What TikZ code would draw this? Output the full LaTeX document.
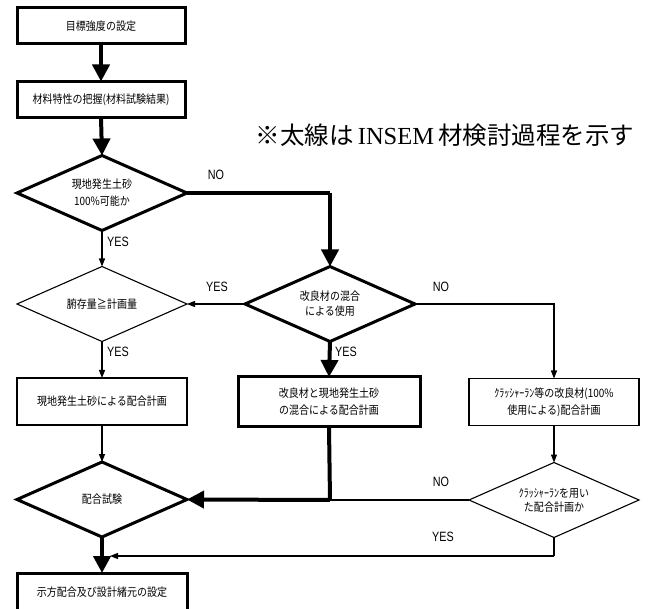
\documentclass[tikz,border=0pt]{standalone}
\usepackage{fontspec}
\setmainfont{Liberation Sans}
\newfontfamily\cjk[FakeStretch=0.87]{Noto Sans CJK JP}
\newfontfamily\notecjk{Noto Sans CJK JP}
\newfontfamily\noteserif{Liberation Serif}
\newfontfamily\labfont[FakeStretch=0.8]{Liberation Sans}
\usetikzlibrary{shapes.geometric,arrows.meta}
\begin{document}
\begin{tikzpicture}[x=1pt,y=-1pt,
  every node/.style={outer sep=0pt,inner sep=0pt},
  txt/.style={font=\cjk\fontsize{11.5}{17}\selectfont,align=center},
  boxthick/.style={txt,draw,line width=3pt,minimum width=168pt,minimum height=36pt},
  boxthin/.style={txt,draw,line width=1.2pt,minimum width=170pt,minimum height=47pt},
  diathick/.style={txt,draw,diamond,aspect=2.27,line width=3pt,minimum width=170pt,minimum height=75pt},
  diathin/.style={txt,draw,diamond,aspect=2.27,line width=1.1pt,minimum width=170pt,minimum height=75pt},
  thickline/.style={line width=4pt},
  thinline/.style={line width=1.1pt},
  thickarrow/.style={thickline,-{Triangle[length=17pt,width=17pt]}},
  thinarrow/.style={thinline,-{Triangle[length=8pt,width=6pt]}},
  lab/.style={font=\labfont\fontsize{13.5}{13.5}\selectfont}
]
\useasboundingbox (0,0) rectangle (656,609);

% nodes
\node[boxthick] (b1) at (101,26) {目標強度の設定};
\node[boxthick] (b2) at (101,99.5) {材料特性の把握(材料試験結果)};
\node[diathick] (d1) at (102,193) {現地発生土砂\\100\%可能か};
\node[diathin] (d2) at (102,304) {腑存量≧計画量};
\node[diathick] (d3) at (330,304) {改良材の混合\\[-2pt]による使用};
\node[boxthin] (b3) at (102,401.5) {現地発生土砂による配合計画};
\node[boxthick,minimum width=182pt,minimum height=50pt] (b4) at (329,402) {改良材と現地発生土砂\\の混合による配合計画};
\node[boxthin] (b6) at (554,402) {ｸﾗｯｼｬｰﾗﾝ等の改良材(100\%\\使用による)配合計画};
\node[diathick] (d4) at (102,499.5) {配合試験};
\node[diathin] (d5) at (554,500) {ｸﾗｯｼｬｰﾗﾝを用い\\[-3pt]た配合計画か};
\node[boxthick,minimum width=170pt,minimum height=38pt] (b5) at (102,592) {示方配合及び設計緒元の設定};

\node[font=\notecjk\fontsize{24.5}{24.5}\selectfont] (note) at (445,135) {※太線は\,{\noteserif INSEM}\,材検討過程を示す};

% helper coordinates
\coordinate (c1) at (330,193);
\coordinate (c3) at (330,500);
\coordinate (c4) at (554,556);
\coordinate (c5) at (110,556);

% connectors
\draw[thickarrow] (b1.south) -- (b2.north);
\draw[thickarrow] (b2.south) -- (d1.north);
\draw[thickline] (d1.east) -- (c1);
\draw[thickarrow] (c1) -- (d3.north);
\draw[thinarrow] (d1.south) -- (d2.north);
\draw[thinarrow] (d3.west) -- (d2.east);
\draw[thinarrow] (d2.south) -- (b3.north);
\draw[thinarrow] (d3.east) -| (b6.north);
\draw[thickarrow] (d3.south) -- (b4.north);
\draw[thinarrow] (b3.south) -- (d4.north);
\draw[thinarrow] (b6.south) -- (d5.north);
\draw[thickline] (b4.south) -- (c3);
\draw[thickarrow] (c3) -- (d4.east);
\draw[thinline] (d5.west) -- (c3);
\draw[thinline] (d5.south) -- (c4);
\draw[thinarrow] (c4) -- (c5);
\draw[thickarrow] (d4.south) -- (b5.north);

% labels
\node[lab] (l1) at (216,175) {NO};
\node[lab] (l2) at (118,242) {YES};
\node[lab] (l3) at (217,287) {YES};
\node[lab] (l4) at (118,352) {YES};
\node[lab] (l5) at (441,287) {NO};
\node[lab] (l6) at (346,352) {YES};
\node[lab] (l7) at (441,482) {NO};
\node[lab] (l8) at (443,537) {YES};
\end{tikzpicture}
\end{document}
